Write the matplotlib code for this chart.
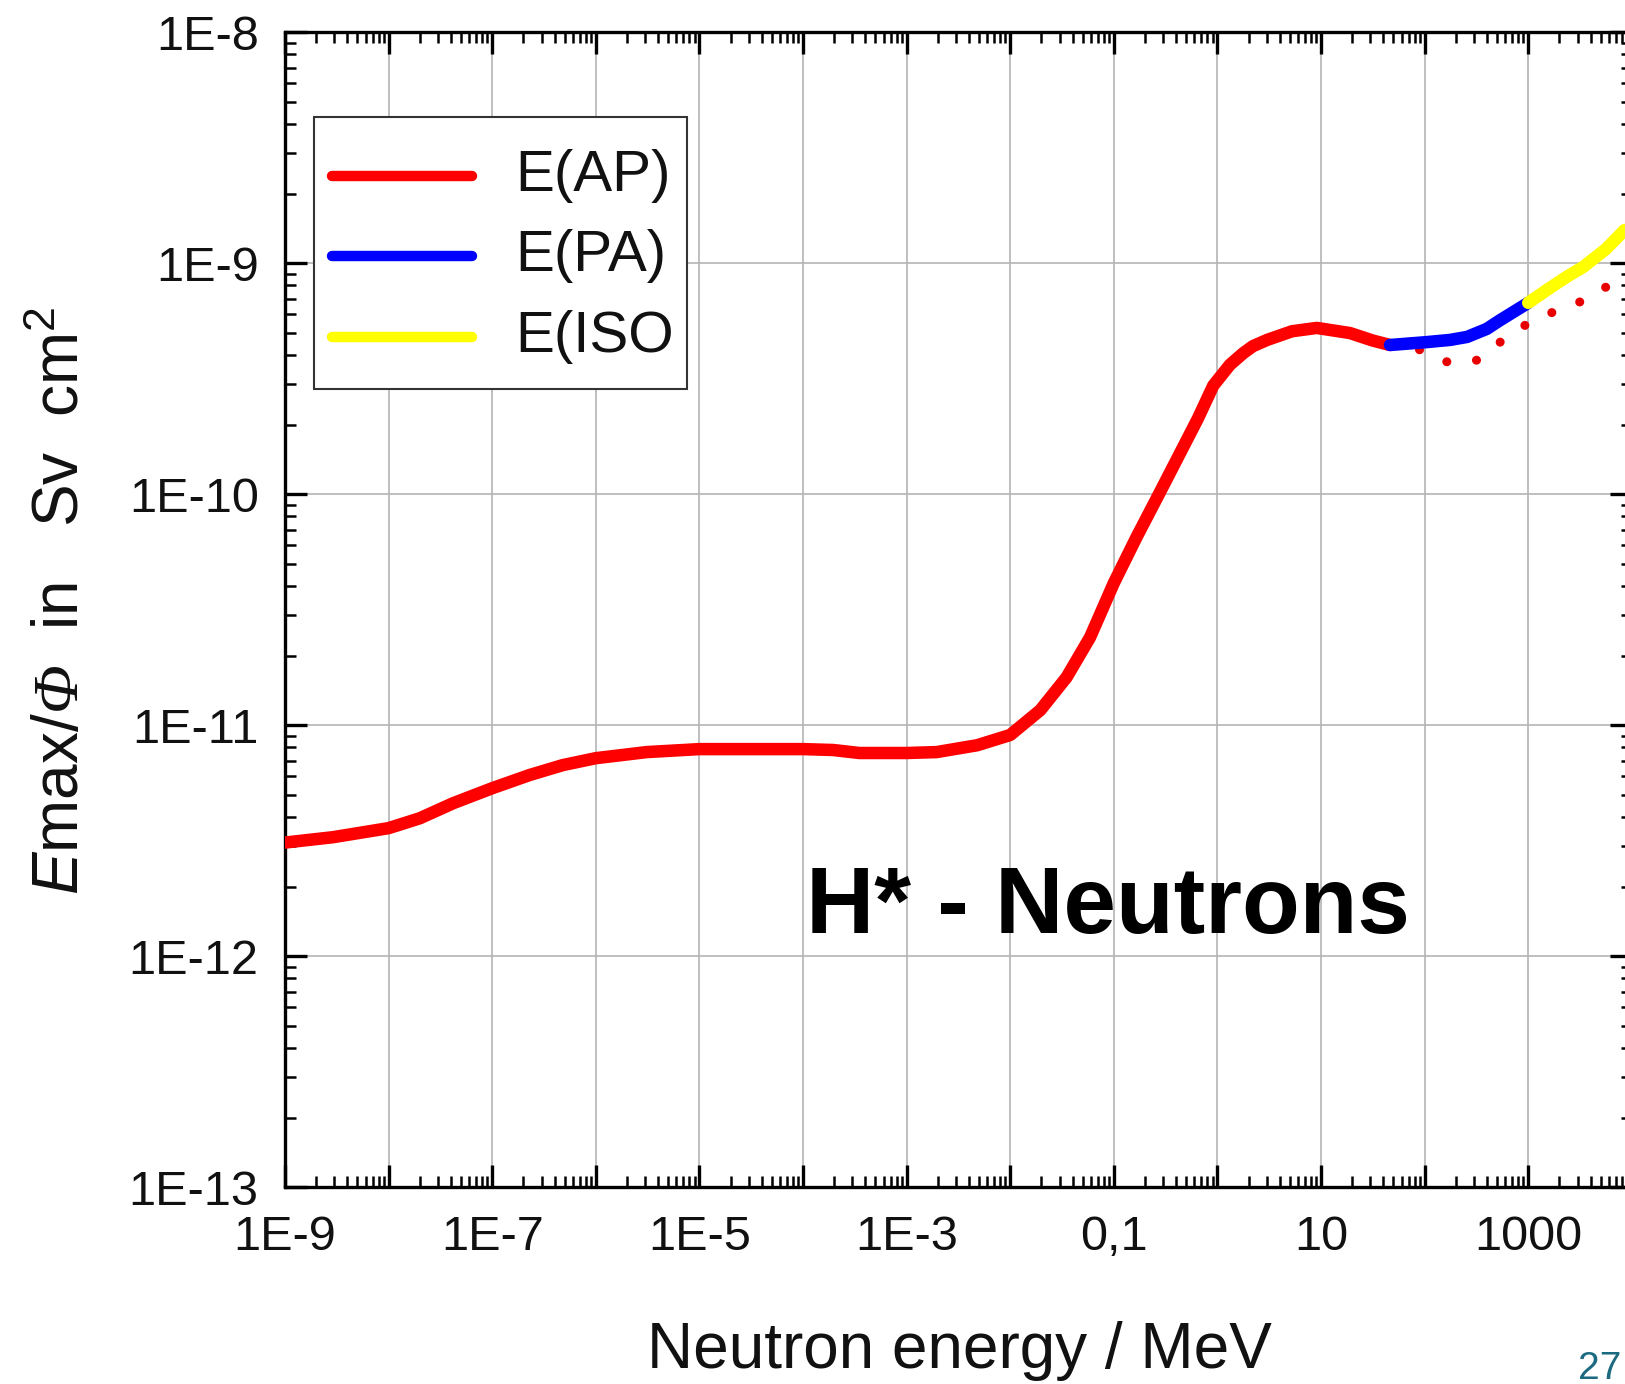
import matplotlib
matplotlib.use('Agg')
import matplotlib.pyplot as plt
from matplotlib.patches import Rectangle
from matplotlib.ticker import FixedLocator, FixedFormatter, LogLocator, NullFormatter

plt.rcParams['font.family'] = 'Liberation Sans'
plt.rcParams['mathtext.fontset'] = 'custom'
plt.rcParams['mathtext.rm'] = 'Liberation Sans'
plt.rcParams['mathtext.it'] = 'Liberation Sans:italic'
plt.rcParams['mathtext.sf'] = 'Liberation Serif:italic'

# ---- data (energy in MeV, coefficient in Sv cm^2) ----
e_ap = [1e-9, 2.9e-9, 1e-8, 2.0e-8, 4.2e-8, 1e-7, 2.3e-7, 4.8e-7, 1e-6, 3.1e-6,
        1e-5, 1e-4, 1.95e-4, 3.5e-4, 1e-3, 1.95e-3, 4.8e-3, 1e-2, 1.95e-2, 3.5e-2,
        5.9e-2, 0.1, 0.166, 0.279, 0.468, 0.65, 0.912, 1.32, 1.77, 2.2,
        3.02, 5.25, 9.1, 19, 31.6, 46.3]
h_ap = [3.10e-12, 3.27e-12, 3.58e-12, 3.95e-12, 4.59e-12, 5.33e-12, 6.08e-12, 6.71e-12, 7.19e-12, 7.64e-12,
        7.87e-12, 7.87e-12, 7.80e-12, 7.57e-12, 7.57e-12, 7.64e-12, 8.18e-12, 9.06e-12, 1.16e-11, 1.61e-11,
        2.40e-11, 4.12e-11, 6.52e-11, 1.02e-10, 1.60e-10, 2.13e-10, 2.95e-10, 3.63e-10, 4.07e-10, 4.37e-10,
        4.65e-10, 5.07e-10, 5.24e-10, 4.98e-10, 4.62e-10, 4.42e-10]

# E(AP) above ~50 MeV (dotted)
e_ap_high = [46.3, 94, 168, 321, 571, 1040, 1940, 3530, 6460]
h_ap_high = [4.42e-10, 4.20e-10, 3.72e-10, 3.80e-10, 4.65e-10, 5.56e-10, 6.27e-10, 6.92e-10, 8.18e-10]

e_pa = [46.3, 105, 176, 257, 398, 535, 1000]
h_pa = [4.42e-10, 4.55e-10, 4.65e-10, 4.79e-10, 5.19e-10, 5.66e-10, 6.73e-10]

e_iso = [1000, 1585, 2340, 3390, 5620, 8510]
h_iso = [6.73e-10, 7.76e-10, 8.71e-10, 9.62e-10, 1.15e-9, 1.39e-9]

series_names = ['E(AP)', 'E(PA)', 'E(ISO']
series_colors = ['#ff0000', '#0000ff', '#ffff00']

x_ticks = [10.0 ** k for k in range(-9, 5)]
x_labels = ['1E-9', '', '1E-7', '', '1E-5', '', '1E-3', '', '0,1', '', '10', '', '1000', '']
y_ticks = [10.0 ** k for k in range(-13, -7)]
y_labels = ['1E-13', '1E-12', '1E-11', '1E-10', '1E-9', '1E-8']

# ---- figure ----
fig = plt.figure(figsize=(16.25, 13.84), dpi=100)
ax = fig.add_axes([0.1754, 0.1423, 0.8288, 0.8345])
ax.set_xscale('log')
ax.set_yscale('log')
ax.set_xlim(1e-9, 1e4)
ax.set_ylim(1e-13, 1e-8)

line_kw = dict(lw=9, solid_capstyle='round', solid_joinstyle='round')
ax.plot(e_ap, h_ap, color=series_colors[0], zorder=3, **line_kw)
ax.plot(e_ap_high, h_ap_high, color='#e80000', lw=6.5, linestyle=(0, (0.01, 3.3)),
        dash_capstyle='round', zorder=2)
ax.plot(e_pa, h_pa, color=series_colors[1], zorder=4, **line_kw)
ax.plot(e_iso, h_iso, color=series_colors[2], zorder=5, **line_kw)

# ticks
ax.xaxis.set_major_locator(FixedLocator(x_ticks))
ax.xaxis.set_major_formatter(FixedFormatter(x_labels))
ax.yaxis.set_major_locator(FixedLocator(y_ticks))
ax.yaxis.set_major_formatter(FixedFormatter(y_labels))
ax.xaxis.set_minor_locator(LogLocator(base=10, subs=range(2, 10), numticks=100))
ax.yaxis.set_minor_locator(LogLocator(base=10, subs=range(2, 10), numticks=100))
ax.xaxis.set_minor_formatter(NullFormatter())
ax.yaxis.set_minor_formatter(NullFormatter())

ax.tick_params(which='both', direction='in', top=True, right=True, colors='black')
ax.tick_params(which='major', length=16, width=2.4, labelsize=35, labelcolor='#111111')
ax.tick_params(which='minor', length=8, width=1.8)
ax.tick_params(axis='x', which='major', pad=20)
ax.tick_params(axis='y', which='major', pad=19)

for sp in ax.spines.values():
    sp.set_linewidth(2.4)

ax.grid(True, which='major', color='#b4b4b4', lw=1.2)
ax.set_axisbelow(True)

# legend box (drawn by hand to match the spacing of the original)
def ax_x(px):
    return (px - 285) / 1346.8

def ax_y(py):
    return (1187 - py) / 1155.0

ax.add_patch(Rectangle((ax_x(314), ax_y(389)), ax_x(687) - ax_x(314), ax_y(117) - ax_y(389),
                       transform=ax.transAxes, facecolor='white', edgecolor='#333333',
                       lw=1.5, zorder=10))
for row_y, name, col in zip([176, 256, 337], series_names, series_colors):
    ax.plot([ax_x(332), ax_x(472)], [ax_y(row_y), ax_y(row_y)], transform=ax.transAxes,
            color=col, lw=7.5, solid_capstyle='round', zorder=11)
    ax.text(ax_x(515), ax_y(row_y), name, transform=ax.transAxes, fontsize=42,
            va='center', ha='left', color='#111111', zorder=11)

# labels and annotations
fig.text(959 / 1625, 16 / 1384, 'Neutron energy / MeV', ha='center',
         va='baseline', fontsize=46, color='#111111')
fig.text(62 / 1625, 0.5658, r'$E$max/$\mathsf{\Phi}$  in   Sv  cm$^2$', rotation=90,
         ha='center', va='center', fontsize=46, color='#111111')
fig.text(806 / 1625, (1384 - 933) / 1384, 'H* - Neutrons', ha='left', va='baseline',
         fontsize=68, fontweight='bold', color='black')
fig.text(1621 / 1625, 5 / 1384, '27', ha='right', va='baseline', fontsize=28,
         color='#1c6a80')

fig.savefig('out.png', dpi=100, facecolor='white')
